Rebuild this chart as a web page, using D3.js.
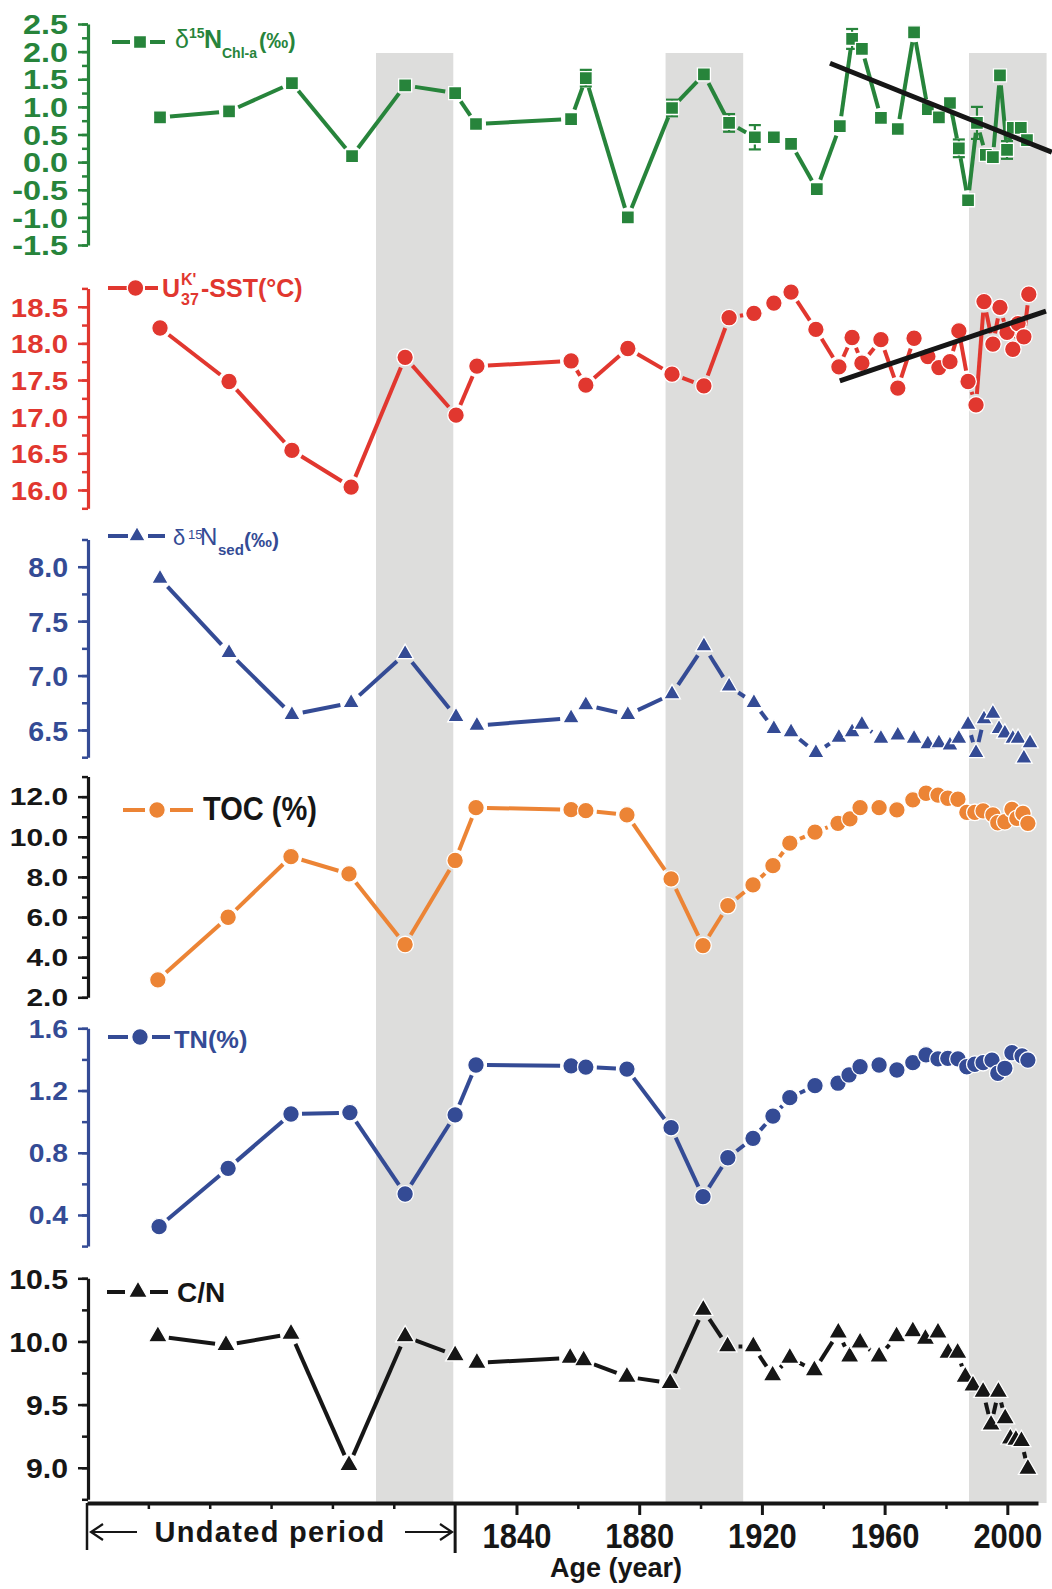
<!DOCTYPE html>
<html><head><meta charset="utf-8">
<script src="https://cdn.jsdelivr.net/npm/d3@7"></script>
<style>
body{margin:0;background:#fff}
svg{display:block}
text{font-family:"Liberation Sans",Arial,Helvetica,sans-serif}
</style>
</head><body>
<svg id="c" width="1052" height="1589"></svg>
<script>
// ---------------- DATA ----------------
const chlYears = [1723.8,1746.3,1766.8,1786.4,1803.7,1820.0,1826.8,1857.8,1862.6,1876.3,1890.7,1901.1,1909.3,1917.7,1923.9,1929.5,1937.9,1945.4,1949.4,1952.6,1958.8,1964.3,1969.6,1974.1,1977.7,1981.3,1984.2,1987.2,1990.1,1993.0,1995.3,1997.6,1999.9,2001.8,2004.4,2006.4];
const chlVals  = [0.81,0.92,1.43,0.11,1.39,1.25,0.69,0.78,1.52,-1.00,0.98,1.59,0.71,0.45,0.45,0.33,-0.49,0.65,2.23,2.05,0.80,0.60,2.35,0.96,0.81,1.07,0.25,-0.69,0.71,0.13,0.09,1.57,0.22,0.62,0.62,0.40];
const chlErr   = [0,0,0,0,0,0.10,0,0.08,0.15,0,0.15,0,0.16,0.22,0,0,0,0,0.18,0,0,0,0,0,0,0,0.16,0,0.29,0,0,0,0.16,0,0,0];
const chlTrendYears = [1942.2, 2014.5];
const chlTrendVals  = [1.79, 0.18];
const chlTicks = [-1.5,-1.0,-0.5,0.0,0.5,1.0,1.5,2.0,2.5];

const sstYears = [1723.8,1746.3,1766.8,1786.1,1803.7,1820.3,1827.1,1857.8,1862.6,1876.3,1890.7,1901.1,1909.3,1917.4,1923.9,1929.5,1937.6,1945.1,1949.4,1952.6,1958.8,1964.3,1969.6,1974.1,1977.7,1981.3,1984.2,1987.2,1989.8,1992.4,1995.3,1997.6,1999.9,2001.8,2003.5,2005.4,2007.0];
const sstVals  = [18.21,17.48,16.54,16.04,17.81,17.02,17.69,17.76,17.43,17.93,17.58,17.42,18.35,18.41,18.55,18.70,18.19,17.68,18.08,17.73,18.05,17.39,18.07,17.82,17.67,17.75,18.17,17.48,17.16,18.57,17.99,18.49,18.15,17.92,18.27,18.09,18.67];
const sstTrendYears = [1945.4, 2012.6];
const sstTrendVals  = [17.49, 18.44];
const sstTicks = [16.0,16.5,17.0,17.5,18.0,18.5];

const sedYears = [1723.8,1746.3,1766.8,1786.1,1803.7,1820.3,1827.1,1857.8,1862.6,1876.3,1890.7,1901.1,1909.3,1917.4,1923.9,1929.5,1937.6,1945.1,1949.4,1952.6,1958.8,1964.3,1969.6,1974.1,1977.7,1981.3,1984.2,1987.2,1989.8,1992.4,1995.3,1997.3,1999.2,2001.8,2003.5,2005.4,2007.4];
const sedVals  = [7.89,7.21,6.64,6.75,7.20,6.62,6.54,6.61,6.73,6.64,6.83,7.27,6.90,6.75,6.51,6.48,6.29,6.43,6.48,6.55,6.42,6.45,6.42,6.37,6.38,6.36,6.42,6.55,6.29,6.60,6.65,6.51,6.47,6.42,6.42,6.24,6.38];
const sedTicks = [6.5,7.0,7.5,8.0];

const tocYears = [1723.1,1746.0,1766.5,1785.4,1803.7,1820.0,1826.8,1857.8,1862.6,1876.0,1890.4,1900.8,1908.9,1917.1,1923.6,1929.1,1937.3,1944.8,1948.7,1952.0,1958.2,1964.0,1969.2,1973.5,1977.4,1980.6,1983.9,1986.8,1989.4,1992.1,1995.3,1996.9,1999.2,2001.5,2003.1,2005.1,2006.7];
const tocVals  = [2.87,5.99,9.01,8.15,4.63,8.82,11.45,11.35,11.30,11.09,7.90,4.58,6.57,7.60,8.56,9.68,10.23,10.67,10.89,11.45,11.45,11.34,11.84,12.17,12.08,11.92,11.87,11.22,11.22,11.29,11.09,10.70,10.75,11.37,10.92,11.17,10.67];
const tocTicks = [2,4,6,8,10,12];

const tnYears = [1723.5,1746.0,1766.5,1785.7,1803.7,1820.0,1826.8,1857.8,1862.6,1876.0,1890.4,1900.8,1908.9,1917.1,1923.6,1929.1,1937.3,1944.8,1948.4,1952.0,1958.2,1964.0,1969.2,1973.5,1977.4,1980.6,1983.9,1986.8,1989.4,1992.1,1995.0,1996.9,1999.2,2001.5,2004.8,2006.7];
const tnVals  = [0.325,0.70,1.049,1.058,0.535,1.043,1.364,1.358,1.351,1.338,0.961,0.518,0.768,0.893,1.036,1.154,1.231,1.247,1.30,1.353,1.364,1.332,1.379,1.429,1.403,1.407,1.403,1.353,1.369,1.379,1.396,1.311,1.343,1.443,1.422,1.396];
const tnTicks = [0.4,0.8,1.2,1.6];

const cnYears = [1723.1,1745.3,1766.5,1785.4,1803.7,1820.0,1827.1,1857.5,1861.9,1876.0,1890.1,1900.9,1908.8,1917.2,1923.5,1929.1,1937.1,1944.9,1948.6,1952.0,1958.2,1963.9,1969.2,1973.3,1977.4,1980.7,1983.8,1986.3,1988.8,1992.1,1994.7,1997.1,1999.3,2001.0,2002.8,2004.6,2006.7];
const cnVals  = [10.04,9.97,10.06,9.02,10.04,9.89,9.83,9.87,9.85,9.72,9.67,10.25,9.96,9.96,9.73,9.87,9.77,10.07,9.88,9.99,9.88,10.04,10.08,10.02,10.07,9.91,9.91,9.72,9.65,9.60,9.34,9.60,9.39,9.23,9.22,9.21,8.99];
const cnTicks = [9.0,9.5,10.0,10.5];

const bandStart = [1794.2, 1888.6, 1987.5];
const bandEnd   = [1819.4, 1913.9, 2012.8];

const xMajorTicks = [1840,1880,1920,1960,2000];
const xMinorTicks = [1720,1740,1760,1780,1800,1860,1900,1940,1980];
const undatedEnd = 1820;

// ---------------- STYLE ----------------
const GREEN='#27843b', RED='#e1372f', BLUE='#344b95', ORANGE='#ec8435', BLACK='#161616', BAND='#dddddc';
const SANS='"Liberation Sans",Arial,Helvetica,sans-serif';
const SERIF='"Liberation Serif","Times New Roman",serif';

const svg = d3.select('#c');
const x = d3.scaleLinear().domain([1700, 2010]).range([87, 1038]);
const AXIS_X = 88;
const X_AXIS_Y = 1503;

// bands
svg.append('g').selectAll('rect').data(bandStart).join('rect')
  .attr('x', (d)=>x(d)).attr('width', (d,i)=>x(bandEnd[i])-x(d))
  .attr('y', 53).attr('height', X_AXIS_Y-53).attr('fill', BAND);

const panels = [
 {years:chlYears, vals:chlVals, err:chlErr, domain:[-1.5,2.5], range:[245,24], color:GREEN, axisColor:GREEN,
  ticks:chlTicks, minorStep:0.25, fs:27, sx:1.2, marker:'square', size:13, gap:10},
 {years:sstYears, vals:sstVals, domain:[15.75,18.75], range:[508.3,288.4], color:RED, axisColor:RED,
  ticks:sstTicks, minorStep:0.25, fs:26, sx:1.13, marker:'circle', size:8.3, gap:11},
 {years:sedYears, vals:sedVals, domain:[6.25,8.25], range:[757.2,539.5], color:BLUE, axisColor:BLUE,
  ticks:sedTicks, minorStep:0.25, fs:28, sx:1.02, marker:'triangle', size:121, gap:11},
 {years:tocYears, vals:tocVals, domain:[2,13], range:[997.3,776.6], color:ORANGE, axisColor:BLACK,
  ticks:tocTicks, minorStep:1, fs:23, sx:1.3, marker:'circle', size:8.3, gap:11},
 {years:tnYears, vals:tnVals, domain:[0.2,1.6], range:[1246.1,1028.3], color:BLUE, axisColor:BLUE,
  ticks:tnTicks, minorStep:0.2, fs:25, sx:1.13, marker:'circle', size:8.3, gap:11},
 {years:cnYears, vals:cnVals, domain:[8.75,10.5], range:[1499.3,1278.3], color:BLACK, axisColor:BLACK,
  ticks:cnTicks, minorStep:0.25, fs:28, sx:1.08, marker:'triangle', size:156, gap:11}
];

function markerSel(g, data, p, cx, cy){
  if (p.marker==='circle'){
    g.selectAll(null).data(data).join('circle')
      .attr('cx', cx).attr('cy', cy).attr('r', p.size)
      .attr('fill', p.color).attr('stroke','#fff').attr('stroke-width',1.3);
  } else {
    const sym = p.marker==='square' ? d3.symbol().type(d3.symbolSquare).size(p.size*p.size)
                                    : d3.symbol().type(d3.symbolTriangle).size(p.size);
    g.selectAll(null).data(data).join('path')
      .attr('d', sym).attr('transform', (d,i)=>`translate(${cx(d,i)},${cy(d,i)})`)
      .attr('fill', p.color).attr('stroke','#fff').attr('stroke-width',1.3);
  }
}

panels.forEach(p=>{
  const y = d3.scaleLinear().domain(p.domain).range(p.range);
  p.y = y;
  const ag = svg.append('g').attr('transform',`translate(${AXIS_X},0)`);
  const minor = d3.range(p.domain[0], p.domain[1]+p.minorStep/2, p.minorStep);
  const mg = ag.append('g').call(d3.axisLeft(y).tickValues(minor).tickSize(6).tickSizeOuter(0).tickFormat(''));
  mg.select('.domain').remove();
  mg.selectAll('.tick line').attr('stroke', p.axisColor).attr('stroke-width',2.5);
  const MG = ag.append('g').call(d3.axisLeft(y).tickValues(p.ticks).tickSize(10).tickSizeOuter(0).tickFormat(d=>d.toFixed(1)));
  MG.select('.domain').attr('stroke', p.axisColor).attr('stroke-width',3.2);
  MG.selectAll('.tick line').attr('stroke', p.axisColor).attr('stroke-width',2.5);
  MG.selectAll('.tick text').attr('fill', p.axisColor).attr('font-size', p.fs).attr('font-weight','bold')
    .attr('font-family', SANS).attr('x', -20/p.sx).attr('dy','0.36em').attr('transform',`scale(${p.sx},1)`);

  const pts = p.years.map((d,i)=>[x(d), y(p.vals[i])]);
  const segs = [];
  for (let i=0;i<pts.length-1;i++){
    const [x1,y1]=pts[i], [x2,y2]=pts[i+1];
    const L = Math.hypot(x2-x1,y2-y1);
    if (L <= 2*p.gap+1.5) continue;
    const ux=(x2-x1)/L, uy=(y2-y1)/L;
    segs.push([x1+ux*p.gap, y1+uy*p.gap, x2-ux*p.gap, y2-uy*p.gap]);
  }
  const g = svg.append('g');
  g.selectAll(null).data(segs).join('line')
    .attr('x1',d=>d[0]).attr('y1',d=>d[1]).attr('x2',d=>d[2]).attr('y2',d=>d[3])
    .attr('stroke', p.color).attr('stroke-width',4).attr('stroke-linecap','butt');

  if (p.err){
    const eb = p.years.map((d,i)=>({yr:d, v:p.vals[i], e:p.err[i]})).filter(d=>d.e>0);
    const eg = g.append('g').attr('stroke', p.color).attr('stroke-width',2.2);
    eg.selectAll(null).data(eb).join('line')
      .attr('x1',d=>x(d.yr)).attr('x2',d=>x(d.yr)).attr('y1',d=>y(d.v-d.e)).attr('y2',d=>y(d.v+d.e));
    eg.selectAll(null).data(eb.flatMap(d=>[{yr:d.yr,v:d.v-d.e},{yr:d.yr,v:d.v+d.e}])).join('line')
      .attr('x1',d=>x(d.yr)-6).attr('x2',d=>x(d.yr)+6).attr('y1',d=>y(d.v)).attr('y2',d=>y(d.v));
  }
  markerSel(g, p.years, p, (d)=>x(d), (d,i)=>y(p.vals[i]));
});

// trend lines
const trend = d3.line().x(d=>x(d[0])).y(d=>d[1]);
svg.append('path').attr('d', trend(chlTrendYears.map((d,i)=>[d, panels[0].y(chlTrendVals[i])])))
  .attr('stroke', BLACK).attr('stroke-width',5).attr('fill','none');
svg.append('path').attr('d', trend(sstTrendYears.map((d,i)=>[d, panels[1].y(sstTrendVals[i])])))
  .attr('stroke', BLACK).attr('stroke-width',5).attr('fill','none');

// legends
function legend(p, yL, d1, d2, mx){
  const g = svg.append('g');
  [d1,d2].forEach(d=>g.append('line').attr('x1',d[0]).attr('x2',d[1]).attr('y1',yL).attr('y2',yL)
      .attr('stroke',p.color).attr('stroke-width',4));
  markerSel(g, [0], p, ()=>mx, ()=>yL);
}
function txt(xp, yp, s, size, weight, color, family, sx){
  svg.append('text').attr('transform',`translate(${xp},${yp}) scale(${sx||1},1)`)
    .attr('font-size',size).attr('font-weight',weight).attr('fill',color)
    .attr('font-family',family||SANS).text(s);
}
legend(panels[0], 42, [112,130],[150,165], 140);
txt(175,48,'δ',25,'normal',GREEN,SERIF);
txt(189,38,'15',14,'bold',GREEN);
txt(204,48,'N',25,'bold',GREEN);
txt(222,58,'Chl-a',14,'bold',GREEN);
txt(259,48,'(‰)',22,'bold',GREEN);

legend(panels[1], 288, [108,127],[145,158], 135.5);
txt(162,297,'U',25,'bold',RED);
txt(181,285,"K'",16,'bold',RED);
txt(181,305,'37',16,'bold',RED);
txt(201,297,'-SST(°C)',25,'bold',RED);

legend(panels[2], 536, [108,128],[148,165], 137);
txt(173,545,'δ',22,'normal',BLUE,SERIF);
txt(188,539,'15',13,'normal',BLUE,SERIF);
txt(200,545,'N',24,'normal',BLUE,SERIF);
txt(218,555,'sed',15,'bold',BLUE);
txt(244,547,'(‰)',21,'bold',BLUE);

legend(panels[3], 810, [123,145],[170,193], 157);
txt(203,820,'TOC (%)',33,'bold',BLACK,SANS,0.88);

legend(panels[4], 1037, [108,128],[152,170], 140);
txt(174,1048,'TN(%)',24,'bold',BLUE,SANS,1.06);

legend(panels[5], 1292, [107,125],[150,168], 138);
txt(177,1302,'C/N',28,'bold',BLACK);

// x axis
const xg = svg.append('g').attr('transform',`translate(0,${X_AXIS_Y})`);
const xm = xg.append('g').call(d3.axisBottom(x).tickValues(xMinorTicks).tickSize(6).tickSizeOuter(0).tickFormat(''));
xm.select('.domain').remove();
xm.selectAll('.tick line').attr('stroke',BLACK).attr('stroke-width',2.5);
const xM = xg.append('g').call(d3.axisBottom(x).tickValues(xMajorTicks).tickSize(12).tickSizeOuter(0).tickFormat(d3.format('d')));
xM.select('.domain').attr('stroke',BLACK).attr('stroke-width',4);
xM.selectAll('.tick line').attr('stroke',BLACK).attr('stroke-width',3);
xM.selectAll('.tick text').attr('fill',BLACK).attr('font-size',36).attr('font-weight','bold')
  .attr('font-family',SANS).attr('y',45).attr('dy',0).attr('transform','scale(0.86,1)');

// undated period bracket
svg.append('line').attr('x1',87).attr('x2',87).attr('y1',X_AXIS_Y).attr('y2',1550).attr('stroke',BLACK).attr('stroke-width',2.5);
svg.append('line').attr('x1',x(undatedEnd)).attr('x2',x(undatedEnd)).attr('y1',X_AXIS_Y).attr('y2',1553).attr('stroke',BLACK).attr('stroke-width',3);
const ar = svg.append('g').attr('stroke',BLACK).attr('stroke-width',2.2).attr('fill','none');
ar.append('path').attr('d','M91,1532H137 M103,1524L91,1532L103,1540');
ar.append('path').attr('d','M405,1532H452 M440,1524L452,1532L440,1540');
svg.append('text').attr('x',270).attr('y',1542).attr('text-anchor','middle').attr('font-size',29)
  .attr('font-weight','bold').attr('letter-spacing','1.3px').attr('fill',BLACK).text('Undated period');
svg.append('text').attr('x',616).attr('y',1577).attr('text-anchor','middle').attr('font-size',27)
  .attr('font-weight','bold').attr('fill',BLACK).text('Age (year)');
</script>
</body></html>
